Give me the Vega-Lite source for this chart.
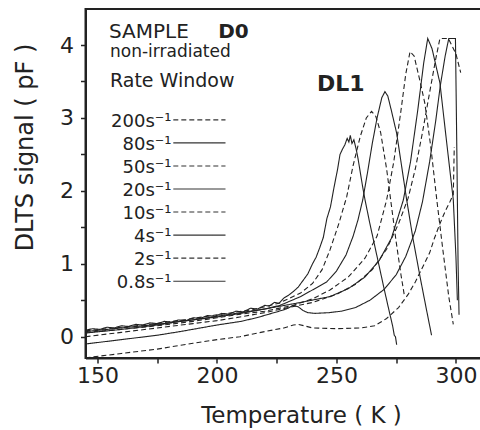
{
  "$schema": "https://vega.github.io/schema/vega-lite/v6.json",
  "width": 396,
  "height": 349,
  "autosize": "none",
  "padding": {"left": 85.5, "top": 9, "right": 0, "bottom": 72},
  "background": "white",
  "config": {
    "font": "DejaVu Sans",
    "view": {"stroke": "#222", "strokeWidth": 2},
    "axis": {"grid": false, "domainColor": "#222", "domainWidth": 2, "tickColor": "#222", "tickWidth": 1.5, "tickSize": 5, "labelColor": "#222", "titleColor": "#222", "labelFont": "DejaVu Sans", "titleFont": "DejaVu Sans", "titleFontWeight": "normal"}
  },
  "datasets": {
    "curves": [
      {"rate":"0.8","style":"solid","T":145,"S":0.09},{"rate":"0.8","style":"solid","T":148,"S":0.11},{"rate":"0.8","style":"solid","T":151,"S":0.10},{"rate":"0.8","style":"solid","T":154,"S":0.13},{"rate":"0.8","style":"solid","T":157,"S":0.12},{"rate":"0.8","style":"solid","T":160,"S":0.15},{"rate":"0.8","style":"solid","T":163,"S":0.14},{"rate":"0.8","style":"solid","T":166,"S":0.17},{"rate":"0.8","style":"solid","T":169,"S":0.16},{"rate":"0.8","style":"solid","T":172,"S":0.19},{"rate":"0.8","style":"solid","T":175,"S":0.18},{"rate":"0.8","style":"solid","T":178,"S":0.21},{"rate":"0.8","style":"solid","T":181,"S":0.20},{"rate":"0.8","style":"solid","T":184,"S":0.23},{"rate":"0.8","style":"solid","T":187,"S":0.22},{"rate":"0.8","style":"solid","T":190,"S":0.26},{"rate":"0.8","style":"solid","T":193,"S":0.25},{"rate":"0.8","style":"solid","T":196,"S":0.29},{"rate":"0.8","style":"solid","T":199,"S":0.28},{"rate":"0.8","style":"solid","T":202,"S":0.32},{"rate":"0.8","style":"solid","T":205,"S":0.31},{"rate":"0.8","style":"solid","T":208,"S":0.35},{"rate":"0.8","style":"solid","T":211,"S":0.34},{"rate":"0.8","style":"solid","T":214,"S":0.39},{"rate":"0.8","style":"solid","T":217,"S":0.38},{"rate":"0.8","style":"solid","T":220,"S":0.43},{"rate":"0.8","style":"solid","T":222,"S":0.42},{"rate":"0.8","style":"solid","T":224,"S":0.47},{"rate":"0.8","style":"solid","T":226,"S":0.46},{"rate":"0.8","style":"solid","T":228,"S":0.53},{"rate":"0.8","style":"solid","T":230,"S":0.57},{"rate":"0.8","style":"solid","T":232,"S":0.62},{"rate":"0.8","style":"solid","T":234,"S":0.68},{"rate":"0.8","style":"solid","T":236,"S":0.77},{"rate":"0.8","style":"solid","T":238,"S":0.86},{"rate":"0.8","style":"solid","T":240,"S":1.0},{"rate":"0.8","style":"solid","T":241.5,"S":1.09},{"rate":"0.8","style":"solid","T":243,"S":1.22},{"rate":"0.8","style":"solid","T":244.5,"S":1.36},{"rate":"0.8","style":"solid","T":246,"S":1.62},{"rate":"0.8","style":"solid","T":247.5,"S":1.78},{"rate":"0.8","style":"solid","T":249,"S":2.05},{"rate":"0.8","style":"solid","T":250.5,"S":2.3},{"rate":"0.8","style":"solid","T":251.5,"S":2.5},{"rate":"0.8","style":"solid","T":252.5,"S":2.57},{"rate":"0.8","style":"solid","T":253.5,"S":2.63},{"rate":"0.8","style":"solid","T":254.5,"S":2.72},{"rate":"0.8","style":"solid","T":255.2,"S":2.67},{"rate":"0.8","style":"solid","T":255.8,"S":2.76},{"rate":"0.8","style":"solid","T":256.5,"S":2.65},{"rate":"0.8","style":"solid","T":257.3,"S":2.7},{"rate":"0.8","style":"solid","T":258.2,"S":2.58},{"rate":"0.8","style":"solid","T":259,"S":2.45},{"rate":"0.8","style":"solid","T":260,"S":2.25},{"rate":"0.8","style":"solid","T":261,"S":2.05},{"rate":"0.8","style":"solid","T":262,"S":1.87},{"rate":"0.8","style":"solid","T":264,"S":1.55},{"rate":"0.8","style":"solid","T":266,"S":1.25},{"rate":"0.8","style":"solid","T":268,"S":0.95},{"rate":"0.8","style":"solid","T":270,"S":0.65},{"rate":"0.8","style":"solid","T":272,"S":0.36},{"rate":"0.8","style":"solid","T":273.5,"S":0.15},{"rate":"0.8","style":"solid","T":274.2,"S":0.02},{"rate":"0.8","style":"solid","T":274.7,"S":0.0},{"rate":"0.8","style":"solid","T":275.2,"S":-0.11},

      {"rate":"2","style":"dashed","T":145,"S":0.08},{"rate":"2","style":"dashed","T":160,"S":0.13},{"rate":"2","style":"dashed","T":175,"S":0.18},{"rate":"2","style":"dashed","T":190,"S":0.25},{"rate":"2","style":"dashed","T":200,"S":0.30},{"rate":"2","style":"dashed","T":215,"S":0.37},{"rate":"2","style":"dashed","T":226,"S":0.46},{"rate":"2","style":"dashed","T":235,"S":0.6},{"rate":"2","style":"dashed","T":240,"S":0.73},{"rate":"2","style":"dashed","T":244,"S":0.92},{"rate":"2","style":"dashed","T":247.3,"S":1.19},{"rate":"2","style":"dashed","T":251,"S":1.55},{"rate":"2","style":"dashed","T":254.3,"S":1.92},{"rate":"2","style":"dashed","T":257,"S":2.35},{"rate":"2","style":"dashed","T":260,"S":2.75},{"rate":"2","style":"dashed","T":262.5,"S":3.0},{"rate":"2","style":"dashed","T":264.7,"S":3.09},{"rate":"2","style":"dashed","T":266.5,"S":3.02},{"rate":"2","style":"dashed","T":268.5,"S":2.8},{"rate":"2","style":"dashed","T":271,"S":2.3},{"rate":"2","style":"dashed","T":273,"S":1.8},{"rate":"2","style":"dashed","T":275,"S":1.3},{"rate":"2","style":"dashed","T":277,"S":0.85},{"rate":"2","style":"dashed","T":278.5,"S":0.55},

      {"rate":"4","style":"solid","T":145,"S":0.07},{"rate":"4","style":"solid","T":160,"S":0.12},{"rate":"4","style":"solid","T":175,"S":0.17},{"rate":"4","style":"solid","T":190,"S":0.23},{"rate":"4","style":"solid","T":200,"S":0.28},{"rate":"4","style":"solid","T":210,"S":0.33},{"rate":"4","style":"solid","T":220,"S":0.38},{"rate":"4","style":"solid","T":226.4,"S":0.43},{"rate":"4","style":"solid","T":235,"S":0.55},{"rate":"4","style":"solid","T":245.9,"S":0.75},{"rate":"4","style":"solid","T":250,"S":0.9},{"rate":"4","style":"solid","T":254,"S":1.12},{"rate":"4","style":"solid","T":257,"S":1.38},{"rate":"4","style":"solid","T":259,"S":1.6},{"rate":"4","style":"solid","T":261,"S":1.875},{"rate":"4","style":"solid","T":263,"S":2.25},{"rate":"4","style":"solid","T":265,"S":2.65},{"rate":"4","style":"solid","T":267,"S":3.0},{"rate":"4","style":"solid","T":269,"S":3.28},{"rate":"4","style":"solid","T":270.3,"S":3.36},{"rate":"4","style":"solid","T":271.5,"S":3.3},{"rate":"4","style":"solid","T":273,"S":3.1},{"rate":"4","style":"solid","T":275.2,"S":2.79},{"rate":"4","style":"solid","T":277,"S":2.4},{"rate":"4","style":"solid","T":279.4,"S":1.875},{"rate":"4","style":"solid","T":282,"S":1.35},{"rate":"4","style":"solid","T":285,"S":0.82},{"rate":"4","style":"solid","T":287.5,"S":0.4},{"rate":"4","style":"solid","T":289.8,"S":0.02},

      {"rate":"10","style":"dashed","T":145,"S":0.06},{"rate":"10","style":"dashed","T":160,"S":0.1},{"rate":"10","style":"dashed","T":175,"S":0.15},{"rate":"10","style":"dashed","T":190,"S":0.21},{"rate":"10","style":"dashed","T":200,"S":0.26},{"rate":"10","style":"dashed","T":210,"S":0.31},{"rate":"10","style":"dashed","T":220,"S":0.35},{"rate":"10","style":"dashed","T":232,"S":0.43},{"rate":"10","style":"dashed","T":240,"S":0.52},{"rate":"10","style":"dashed","T":247.3,"S":0.64},{"rate":"10","style":"dashed","T":255,"S":0.82},{"rate":"10","style":"dashed","T":262,"S":1.08},{"rate":"10","style":"dashed","T":267,"S":1.38},{"rate":"10","style":"dashed","T":271,"S":1.875},{"rate":"10","style":"dashed","T":274,"S":2.4},{"rate":"10","style":"dashed","T":277,"S":3.1},{"rate":"10","style":"dashed","T":279,"S":3.6},{"rate":"10","style":"dashed","T":280.8,"S":3.91},{"rate":"10","style":"dashed","T":282.5,"S":3.85},{"rate":"10","style":"dashed","T":285,"S":3.5},{"rate":"10","style":"dashed","T":287,"S":3.2},{"rate":"10","style":"dashed","T":289.5,"S":2.6},{"rate":"10","style":"dashed","T":292,"S":1.875},{"rate":"10","style":"dashed","T":294.5,"S":1.2},{"rate":"10","style":"dashed","T":297,"S":0.55},{"rate":"10","style":"dashed","T":298.9,"S":0.17},

      {"rate":"20","style":"solid","T":145,"S":0.05},{"rate":"20","style":"solid","T":160,"S":0.1},{"rate":"20","style":"solid","T":175,"S":0.16},{"rate":"20","style":"solid","T":184.5,"S":0.21},{"rate":"20","style":"solid","T":200,"S":0.27},{"rate":"20","style":"solid","T":210,"S":0.32},{"rate":"20","style":"solid","T":220,"S":0.38},{"rate":"20","style":"solid","T":233.4,"S":0.46},{"rate":"20","style":"solid","T":247.3,"S":0.55},{"rate":"20","style":"solid","T":255,"S":0.66},{"rate":"20","style":"solid","T":262,"S":0.82},{"rate":"20","style":"solid","T":268,"S":1.05},{"rate":"20","style":"solid","T":273,"S":1.35},{"rate":"20","style":"solid","T":278,"S":1.875},{"rate":"20","style":"solid","T":281,"S":2.4},{"rate":"20","style":"solid","T":284,"S":3.1},{"rate":"20","style":"solid","T":286.5,"S":3.75},{"rate":"20","style":"solid","T":288.2,"S":4.09},{"rate":"20","style":"solid","T":290,"S":3.95},{"rate":"20","style":"solid","T":293.3,"S":3.48},{"rate":"20","style":"solid","T":296,"S":2.7},{"rate":"20","style":"solid","T":298.9,"S":1.875},{"rate":"20","style":"solid","T":300,"S":1.1},{"rate":"20","style":"solid","T":300.6,"S":0.5},

      {"rate":"50","style":"dashed","T":145,"S":0.0},{"rate":"50","style":"dashed","T":160,"S":0.06},{"rate":"50","style":"dashed","T":175,"S":0.12},{"rate":"50","style":"dashed","T":190,"S":0.18},{"rate":"50","style":"dashed","T":200,"S":0.22},{"rate":"50","style":"dashed","T":209.6,"S":0.27},{"rate":"50","style":"dashed","T":220,"S":0.33},{"rate":"50","style":"dashed","T":230,"S":0.4},{"rate":"50","style":"dashed","T":240,"S":0.47},{"rate":"50","style":"dashed","T":250,"S":0.58},{"rate":"50","style":"dashed","T":258,"S":0.72},{"rate":"50","style":"dashed","T":265,"S":0.92},{"rate":"50","style":"dashed","T":271,"S":1.2},{"rate":"50","style":"dashed","T":276,"S":1.55},{"rate":"50","style":"dashed","T":280,"S":1.9},{"rate":"50","style":"dashed","T":283,"S":2.3},{"rate":"50","style":"dashed","T":286,"S":2.8},{"rate":"50","style":"dashed","T":289,"S":3.35},{"rate":"50","style":"dashed","T":291.5,"S":3.8},{"rate":"50","style":"dashed","T":293.3,"S":4.09},{"rate":"50","style":"dashed","T":296.8,"S":4.09},{"rate":"50","style":"dashed","T":298.5,"S":3.98},{"rate":"50","style":"dashed","T":300,"S":3.88},{"rate":"50","style":"dashed","T":301,"S":3.75},{"rate":"50","style":"dashed","T":302,"S":3.62},

      {"rate":"80","style":"solid","T":145,"S":-0.1},{"rate":"80","style":"solid","T":160,"S":-0.04},{"rate":"80","style":"solid","T":175,"S":0.02},{"rate":"80","style":"solid","T":184.5,"S":0.07},{"rate":"80","style":"solid","T":200,"S":0.16},{"rate":"80","style":"solid","T":210,"S":0.21},{"rate":"80","style":"solid","T":216.6,"S":0.26},{"rate":"80","style":"solid","T":225,"S":0.34},{"rate":"80","style":"solid","T":229,"S":0.38},{"rate":"80","style":"solid","T":232,"S":0.43},{"rate":"80","style":"solid","T":234,"S":0.41},{"rate":"80","style":"solid","T":236,"S":0.36},{"rate":"80","style":"solid","T":238,"S":0.33},{"rate":"80","style":"solid","T":241,"S":0.32},{"rate":"80","style":"solid","T":247,"S":0.33},{"rate":"80","style":"solid","T":252,"S":0.35},{"rate":"80","style":"solid","T":258,"S":0.4},{"rate":"80","style":"solid","T":264,"S":0.5},{"rate":"80","style":"solid","T":270,"S":0.65},{"rate":"80","style":"solid","T":275,"S":0.85},{"rate":"80","style":"solid","T":279,"S":1.1},{"rate":"80","style":"solid","T":283,"S":1.45},{"rate":"80","style":"solid","T":286,"S":1.85},{"rate":"80","style":"solid","T":289,"S":2.4},{"rate":"80","style":"solid","T":291.5,"S":2.95},{"rate":"80","style":"solid","T":293.5,"S":3.45},{"rate":"80","style":"solid","T":295.5,"S":3.85},{"rate":"80","style":"solid","T":297,"S":4.09},{"rate":"80","style":"solid","T":299.8,"S":4.09},{"rate":"80","style":"solid","T":300.4,"S":2.5},{"rate":"80","style":"solid","T":300.9,"S":1.0},{"rate":"80","style":"solid","T":301.3,"S":0.3},

      {"rate":"200","style":"dashed","T":145,"S":-0.29},{"rate":"200","style":"dashed","T":160,"S":-0.23},{"rate":"200","style":"dashed","T":175,"S":-0.17},{"rate":"200","style":"dashed","T":190,"S":-0.09},{"rate":"200","style":"dashed","T":200,"S":-0.04},{"rate":"200","style":"dashed","T":209.6,"S":0.0},{"rate":"200","style":"dashed","T":220,"S":0.07},{"rate":"200","style":"dashed","T":228,"S":0.12},{"rate":"200","style":"dashed","T":232,"S":0.16},{"rate":"200","style":"dashed","T":234,"S":0.17},{"rate":"200","style":"dashed","T":236.5,"S":0.15},{"rate":"200","style":"dashed","T":240,"S":0.12},{"rate":"200","style":"dashed","T":250,"S":0.11},{"rate":"200","style":"dashed","T":260,"S":0.12},{"rate":"200","style":"dashed","T":266,"S":0.15},{"rate":"200","style":"dashed","T":271,"S":0.25},{"rate":"200","style":"dashed","T":276,"S":0.4},{"rate":"200","style":"dashed","T":280,"S":0.58},{"rate":"200","style":"dashed","T":283,"S":0.75},{"rate":"200","style":"dashed","T":286,"S":0.95},{"rate":"200","style":"dashed","T":289,"S":1.15},{"rate":"200","style":"dashed","T":291,"S":1.35},{"rate":"200","style":"dashed","T":293.3,"S":1.55},{"rate":"200","style":"dashed","T":295.5,"S":1.72},{"rate":"200","style":"dashed","T":297.5,"S":1.85},{"rate":"200","style":"dashed","T":298.9,"S":1.95},{"rate":"200","style":"dashed","T":299.3,"S":2.6}
    ],
    "legend": [
      {"rate":"200","label":"200s⁻¹","style":"dashed"},
      {"rate":"80","label":"80s⁻¹","style":"solid"},
      {"rate":"50","label":"50s⁻¹","style":"dashed"},
      {"rate":"20","label":"20s⁻¹","style":"solid"},
      {"rate":"10","label":"10s⁻¹","style":"dashed"},
      {"rate":"4","label":"4s⁻¹","style":"solid"},
      {"rate":"2","label":"2s⁻¹","style":"dashed"},
      {"rate":"0.8","label":"0.8s⁻¹","style":"solid"}
    ]
  },
  "resolve": {"scale": {"y": "independent"}},
  "layer": [
    {
      "layer": [
        {
          "data": {"name": "curves"},
          "mark": {"type": "line", "strokeWidth": 1.1, "color": "#222", "clip": true},
          "encoding": {
            "x": {"field": "T", "type": "quantitative", "scale": {"domain": [145, 310.7], "nice": false, "zero": false},
              "axis": {"values": [150,175,200,225,250,275,300], "labelExpr": "datum.value % 50 === 0 ? datum.label : ''", "format": "d", "labelFontSize": 22, "labelPadding": 2, "labelFlush": false, "title": "Temperature ( K )", "titleFontSize": 23, "titleX": 215.5, "titleY": 64, "titleAlign": "center", "titleBaseline": "alphabetic", "titleAnchor": null}},
            "y": {"field": "S", "type": "quantitative", "scale": {"domain": [-0.292, 4.494], "nice": false, "zero": false},
              "axis": {"values": [0,0.5,1,1.5,2,2.5,3,3.5,4], "labelExpr": "datum.value % 1 === 0 ? format(datum.value, 'd') : ''", "labelFontSize": 22, "labelPadding": 7, "labelFlush": false, "title": "DLTS signal ( pF )", "titleFontSize": 24, "titleAngle": -90, "titleX": -53, "titleY": 138, "titleAlign": "center", "titleBaseline": "alphabetic", "titleAnchor": null}},
            "detail": {"field": "rate", "type": "nominal"},
            "strokeDash": {"field": "style", "type": "nominal", "scale": {"domain": ["solid", "dashed"], "range": [[1, 0], [5, 3]]}, "legend": null}
          }
        },
        {
          "data": {"values": [{"t": "SAMPLE"}]},
          "mark": {"type": "text", "align": "left", "baseline": "alphabetic", "fontSize": 20, "color": "#222"},
          "encoding": {"x": {"datum": 154.83, "type": "quantitative"}, "y": {"datum": 4.09, "type": "quantitative"}, "text": {"field": "t"}}
        },
        {
          "data": {"values": [{"t": "D0"}]},
          "mark": {"type": "text", "align": "left", "baseline": "alphabetic", "fontSize": 20, "fontWeight": "bold", "color": "#222"},
          "encoding": {"x": {"datum": 200.5, "type": "quantitative"}, "y": {"datum": 4.09, "type": "quantitative"}, "text": {"field": "t"}}
        },
        {
          "data": {"values": [{"t": "non-irradiated"}]},
          "mark": {"type": "text", "align": "left", "baseline": "alphabetic", "fontSize": 17, "color": "#222"},
          "encoding": {"x": {"datum": 155.25, "type": "quantitative"}, "y": {"datum": 3.83, "type": "quantitative"}, "text": {"field": "t"}}
        },
        {
          "data": {"values": [{"t": "Rate Window"}]},
          "mark": {"type": "text", "align": "left", "baseline": "alphabetic", "fontSize": 19, "color": "#222"},
          "encoding": {"x": {"datum": 155.25, "type": "quantitative"}, "y": {"datum": 3.429, "type": "quantitative"}, "text": {"field": "t"}}
        },
        {
          "data": {"values": [{"t": "DL1"}]},
          "mark": {"type": "text", "align": "left", "baseline": "alphabetic", "fontSize": 22, "fontWeight": "bold", "color": "#222"},
          "encoding": {"x": {"datum": 241.86, "type": "quantitative"}, "y": {"datum": 3.375, "type": "quantitative"}, "text": {"field": "t"}}
        }
      ]
    },
    {
      "data": {"name": "legend"},
      "encoding": {
        "y": {"field": "rate", "type": "ordinal", "sort": null, "scale": {"type": "point", "domain": ["200","80","50","20","10","4","2","0.8"], "range": [99.3, 283.7]}, "axis": null}
      },
      "layer": [
        {
          "mark": {"type": "rule", "strokeWidth": 1.1, "color": "#333"},
          "encoding": {
            "x": {"datum": 181.74, "type": "quantitative"},
            "x2": {"datum": 203.58},
            "strokeDash": {"field": "style", "type": "nominal", "scale": {"domain": ["solid", "dashed"], "range": [[1, 0], [5, 3]]}, "legend": null}
          }
        },
        {
          "mark": {"type": "text", "align": "right", "baseline": "alphabetic", "dy": 7, "fontSize": 18, "color": "#222"},
          "encoding": {
            "x": {"datum": 180.98, "type": "quantitative"},
            "text": {"field": "label"}
          }
        }
      ]
    }
  ]
}
